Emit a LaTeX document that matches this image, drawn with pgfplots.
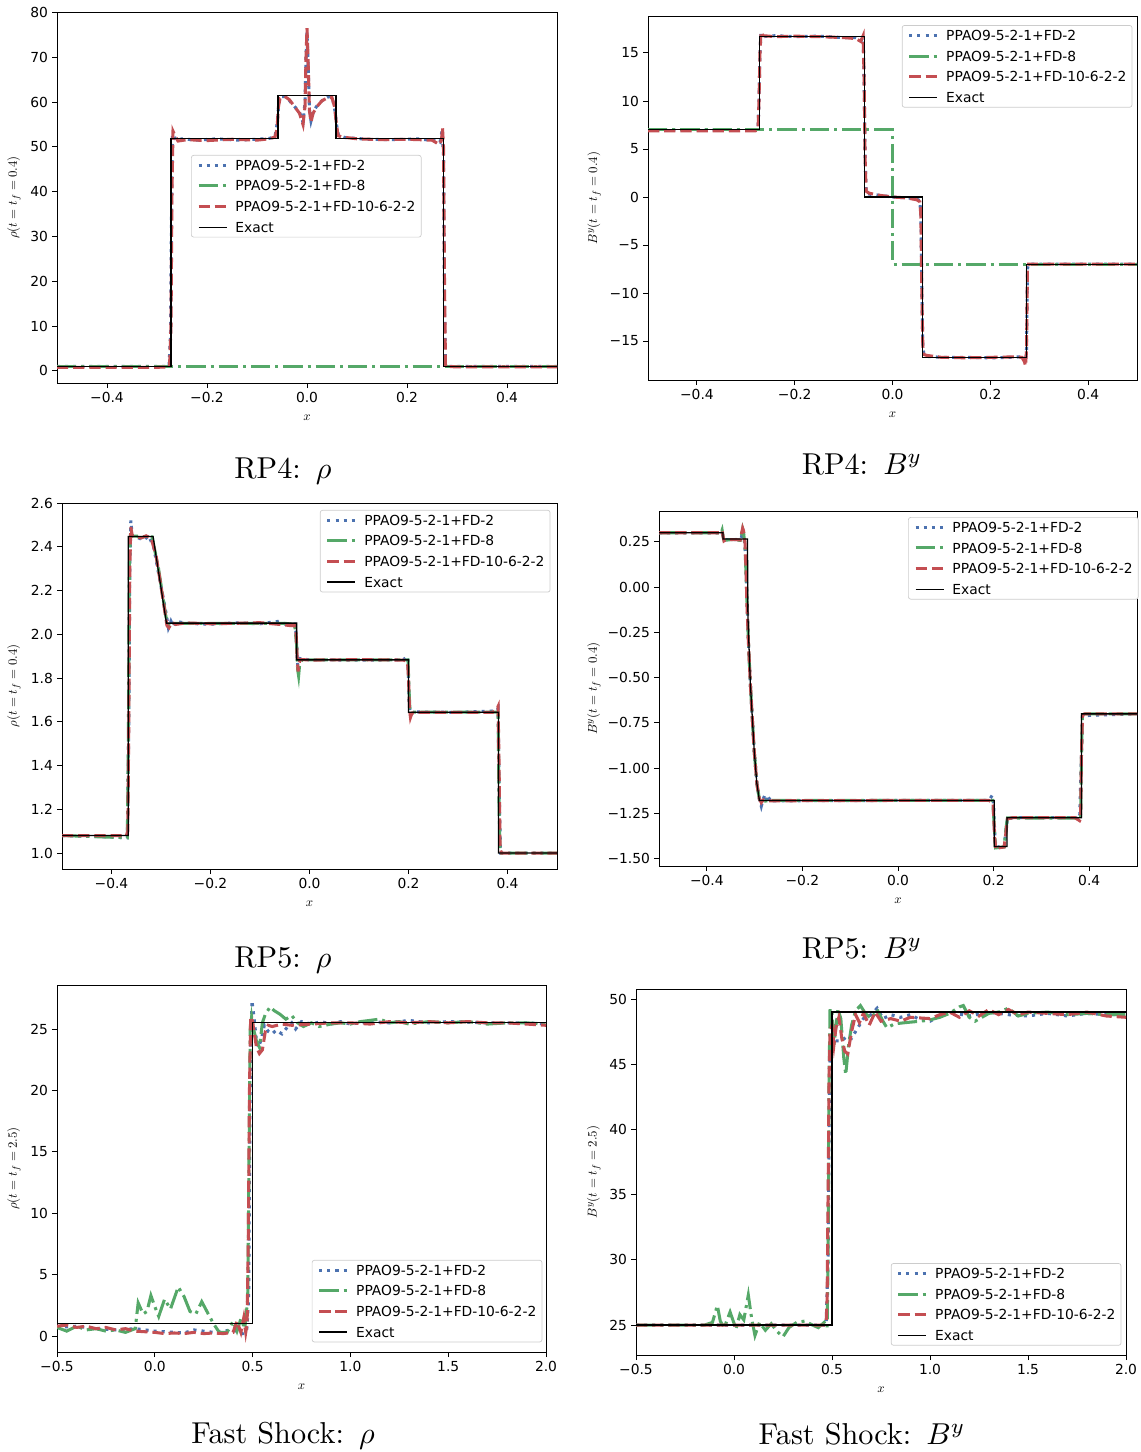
\documentclass[border=0pt]{standalone}
\usepackage{fontspec}
\usepackage{pgfplots}
\pgfplotsset{compat=1.18}
\newfontfamily\dejavu{DejaVu Sans}
\newcommand\tickfont{\dejavu\fontsize{11.8}{14}\selectfont}
\definecolor{cB}{HTML}{4C72B0}
\definecolor{cG}{HTML}{55A868}
\definecolor{cR}{HTML}{C44E52}

\pgfplotsset{
  panel/.style={
    scale only axis, anchor=south west,
    axis line style={line width=0.8pt},
    tick pos=left, tick align=outside,
    major tick length=1.5mm,
    every tick/.style={line width=0.8pt, black},
    ticklabel style={font=\tickfont},
    xlabel={$x$},
    label style={font=\fontsize{11}{13}\selectfont},
    xlabel style={at={(axis description cs:0.5,0)}, anchor=center, yshift=-1.05cm},
    ylabel style={anchor=center},
    legend cell align=left,
    legend image code/.code={\draw[##1] (0cm,0cm) -- (0.84cm,0cm); \path (1.06cm,0cm);},
    legend style={font=\tickfont, draw=black!20, line width=0.6pt, rounded corners=2pt,
      fill=white, anchor=north west, inner xsep=0.17cm, inner ysep=4.2pt, row sep=9pt,
      nodes={inner sep=0pt, text height=8.6pt, text depth=0pt}},
  },
  sB/.style={color=cB, line width=2.6pt, dash pattern=on 2.6pt off 4.3pt},
  sG/.style={color=cG, line width=2.6pt, dash pattern=on 16.6pt off 4.2pt on 2.6pt off 4.2pt},
  sR/.style={color=cR, line width=2.6pt, dash pattern=on 9.6pt off 4.2pt},
  sE/.style={black, line width=1.1pt},
}
\tikzset{ttl/.style={anchor=base, scale=2.58, font=\fontsize{10}{12}\selectfont}}

\begin{document}
\begin{tikzpicture}
\useasboundingbox (0,0) rectangle (34.2,-43.56);

% ---- RP4: rho
\begin{axis}[panel, at={(1.71cm,-11.49cm)}, width=15cm, height=11.13cm,
  xmin=-0.5, xmax=0.5, ymin=-2.7, ymax=80.1,
  xtick={-0.4,-0.2,0,0.2,0.4}, xticklabels={−0.4,−0.2,0.0,0.2,0.4},
  ytick={0,10,...,80}, yticklabels={0,10,20,30,40,50,60,70,80},
  ylabel={$\rho(t=t_f=0.4)$}, ylabel style={at={(axis description cs:-0.086,0.5)}},
  legend style={at={(axis description cs:0.268,0.6146)}}]
\addplot[sB] coordinates {(-0.5,1.0) (-0.3,1.0) (-0.276,1.0) (-0.273,8) (-0.271,35) (-0.269,52.8) (-0.266,52.6) (-0.262,51.4) (-0.25,51.8) (-0.22,51.5) (-0.18,51.8) (-0.14,51.5) (-0.10,51.7) (-0.075,51.9) (-0.064,52.3) (-0.060,55) (-0.056,60) (-0.052,61.2) (-0.045,61.2) (-0.035,60.3) (-0.025,59) (-0.015,57.8) (-0.008,55.5) (-0.004,60) (-0.002,70) (0.0,75.5) (0.002,69) (0.005,58) (0.008,55.8) (0.013,58) (0.022,59.5) (0.032,60.5) (0.043,61.2) (0.051,60.8) (0.056,58) (0.059,55) (0.063,52.6) (0.075,52.1) (0.12,51.7) (0.17,51.6) (0.22,51.8) (0.255,51.4) (0.266,51) (0.270,53.5) (0.273,48) (0.275,15) (0.277,1.0) (0.5,1.0)};
\addplot[sG] coordinates {(-0.5,1.0) (0.5,1.0)};
\addplot[sR] coordinates {(-0.5,0.8) (-0.30,0.8) (-0.275,0.9) (-0.272,10) (-0.270,40) (-0.268,53.5) (-0.264,52.5) (-0.258,51.3) (-0.24,51.6) (-0.2,51.4) (-0.15,51.7) (-0.1,51.5) (-0.075,51.8) (-0.064,52.2) (-0.060,54) (-0.057,59) (-0.054,60.8) (-0.045,61.3) (-0.035,60.5) (-0.025,59) (-0.015,57.5) (-0.008,55) (-0.004,59) (-0.002,70) (0.0,76.5) (0.002,70) (0.005,58) (0.008,55.5) (0.012,57.5) (0.02,59) (0.03,60.3) (0.042,61) (0.05,61) (0.055,59) (0.058,56) (0.062,52.5) (0.07,52.2) (0.1,51.8) (0.15,51.6) (0.2,51.7) (0.25,51.5) (0.265,50.5) (0.269,51.5) (0.271,54.3) (0.273,50) (0.275,20) (0.277,1) (0.3,0.9) (0.5,0.9)};
\addplot[sE] coordinates {(-0.5,1) (-0.272,1) (-0.272,51.8) (-0.058,51.8) (-0.058,61.5) (0.058,61.5) (0.058,51.8) (0.273,51.8) (0.273,1) (0.5,1)};
\legend{PPAO9-5-2-1+FD-2, PPAO9-5-2-1+FD-8, PPAO9-5-2-1+FD-10-6-2-2, Exact}
\end{axis}

% ---- RP4: By
\begin{axis}[panel, at={(19.44cm,-11.40cm)}, width=14.67cm, height=10.92cm,
  xmin=-0.5, xmax=0.5, ymin=-19.06, ymax=18.85,
  xtick={-0.4,-0.2,0,0.2,0.4}, xticklabels={−0.4,−0.2,0.0,0.2,0.4},
  ytick={-15,-10,...,15}, yticklabels={−15,−10,−5,0,5,10,15},
  ylabel={$B^y(t=t_f=0.4)$}, ylabel style={at={(axis description cs:-0.110,0.5)}},
  legend style={at={(axis description cs:0.519,0.975)}}]
\addplot[sB] coordinates {(-0.5,7.0) (-0.28,7.0) (-0.275,7.1) (-0.273,10) (-0.271,15) (-0.269,17.0) (-0.265,16.7) (-0.24,16.8) (-0.2,16.7) (-0.15,16.75) (-0.1,16.6) (-0.075,16.6) (-0.065,16.3) (-0.060,16.6) (-0.058,12) (-0.056,4) (-0.054,0.5) (-0.048,0.3) (-0.03,0.2) (0.0,0.0) (0.03,-0.1) (0.05,-0.2) (0.056,-0.4) (0.058,-2) (0.060,-10) (0.062,-15.5) (0.064,-16.3) (0.07,-16.6) (0.1,-16.7) (0.15,-16.7) (0.2,-16.75) (0.25,-16.7) (0.265,-16.6) (0.27,-17.0) (0.272,-17.2) (0.274,-16) (0.276,-7.5) (0.278,-7.0) (0.5,-7.0)};
\addplot[sG] coordinates {(-0.5,7) (0.0,7) (0.0,-7) (0.5,-7)};
\addplot[sR] coordinates {(-0.5,6.9) (-0.28,6.9) (-0.275,7.1) (-0.273,10) (-0.271,15) (-0.269,17.2) (-0.265,16.8) (-0.24,16.7) (-0.2,16.75) (-0.15,16.7) (-0.1,16.6) (-0.075,16.5) (-0.065,16.2) (-0.060,16.8) (-0.058,12) (-0.056,4) (-0.054,0.6) (-0.048,0.4) (-0.03,0.2) (0.0,0.0) (0.03,-0.1) (0.05,-0.3) (0.056,-0.5) (0.058,-2) (0.060,-10) (0.062,-15.5) (0.064,-16.4) (0.07,-16.5) (0.1,-16.7) (0.15,-16.75) (0.2,-16.7) (0.25,-16.65) (0.265,-16.7) (0.27,-17.2) (0.272,-17.6) (0.274,-16) (0.276,-7.5) (0.278,-7.0) (0.3,-7.0) (0.5,-7.0)};
\addplot[sE] coordinates {(-0.5,7) (-0.272,7) (-0.272,16.7) (-0.057,16.7) (-0.057,0) (0.061,0) (0.061,-16.7) (0.274,-16.7) (0.274,-7) (0.5,-7)};
\legend{PPAO9-5-2-1+FD-2, PPAO9-5-2-1+FD-8, PPAO9-5-2-1+FD-10-6-2-2, Exact}
\end{axis}

% ---- RP5: rho
\begin{axis}[panel, at={(1.86cm,-26.07cm)}, width=14.85cm, height=10.98cm,
  xmin=-0.5, xmax=0.5, ymin=0.927, ymax=2.6,
  xtick={-0.4,-0.2,0,0.2,0.4}, xticklabels={−0.4,−0.2,0.0,0.2,0.4},
  ytick={1.0,1.2,...,2.61}, yticklabels={1.0,1.2,1.4,1.6,1.8,2.0,2.2,2.4,2.6},
  ylabel={$\rho(t=t_f=0.4)$}, ylabel style={at={(axis description cs:-0.097,0.5)}},
  legend style={at={(axis description cs:0.521,0.981)}}]
\addplot[sB] coordinates {(-0.5,1.08) (-0.368,1.07) (-0.365,1.6) (-0.363,2.3) (-0.361,2.52) (-0.358,2.45) (-0.345,2.44) (-0.335,2.43) (-0.325,2.45) (-0.315,2.40) (-0.30,2.22) (-0.29,2.1) (-0.285,2.03) (-0.28,2.06) (-0.275,2.035) (-0.27,2.06) (-0.25,2.05) (-0.2,2.046) (-0.15,2.052) (-0.1,2.048) (-0.06,2.06) (-0.04,2.035) (-0.03,2.06) (-0.027,2.0) (-0.024,1.86) (-0.022,1.89) (0.0,1.883) (0.1,1.882) (0.19,1.883) (0.197,1.9) (0.199,1.88) (0.201,1.7) (0.204,1.63) (0.21,1.645) (0.3,1.643) (0.378,1.65) (0.381,1.66) (0.383,1.3) (0.386,1.0) (0.5,1.0)};
\addplot[sG] coordinates {(-0.5,1.08) (-0.368,1.07) (-0.366,1.5) (-0.364,2.3) (-0.362,2.45) (-0.34,2.447) (-0.318,2.445) (-0.305,2.3) (-0.29,2.08) (-0.285,2.045) (-0.27,2.05) (-0.2,2.05) (-0.05,2.05) (-0.03,2.045) (-0.026,1.95) (-0.024,1.84) (-0.022,1.81) (-0.020,1.86) (-0.015,1.883) (0.199,1.883) (0.201,1.75) (0.203,1.65) (0.21,1.644) (0.381,1.644) (0.383,1.2) (0.385,1.0) (0.5,1.0)};
\addplot[sR] coordinates {(-0.5,1.08) (-0.37,1.08) (-0.367,1.1) (-0.365,1.6) (-0.363,2.3) (-0.361,2.49) (-0.358,2.45) (-0.35,2.445) (-0.34,2.44) (-0.33,2.45) (-0.32,2.44) (-0.31,2.36) (-0.30,2.22) (-0.292,2.1) (-0.288,2.04) (-0.284,2.03) (-0.278,2.055) (-0.27,2.045) (-0.25,2.052) (-0.2,2.048) (-0.15,2.05) (-0.1,2.053) (-0.06,2.045) (-0.04,2.04) (-0.03,2.04) (-0.027,2.0) (-0.025,1.9) (-0.023,1.83) (-0.021,1.87) (-0.018,1.885) (0.0,1.882) (0.1,1.884) (0.19,1.882) (0.198,1.875) (0.200,1.8) (0.202,1.66) (0.204,1.62) (0.207,1.64) (0.22,1.643) (0.3,1.643) (0.37,1.643) (0.379,1.66) (0.381,1.67) (0.383,1.4) (0.385,1.02) (0.388,1.0) (0.5,1.0)};
\addplot[sE] coordinates {(-0.5,1.08) (-0.366,1.08) (-0.366,2.447) (-0.316,2.447) (-0.289,2.051) (-0.026,2.051) (-0.026,1.883) (0.200,1.883) (0.200,1.644) (0.382,1.644) (0.382,1.0) (0.5,1.0)};
\legend{PPAO9-5-2-1+FD-2, PPAO9-5-2-1+FD-8, PPAO9-5-2-1+FD-10-6-2-2, Exact}
\end{axis}

% ---- RP5: By
\begin{axis}[panel, at={(19.77cm,-25.98cm)}, width=14.34cm, height=10.65cm,
  xmin=-0.5, xmax=0.5, ymin=-1.54, ymax=0.42,
  xtick={-0.4,-0.2,0,0.2,0.4}, xticklabels={−0.4,−0.2,0.0,0.2,0.4},
  ytick={-1.5,-1.25,...,0.26}, yticklabels={−1.50,−1.25,−1.00,−0.75,−0.50,−0.25,0.00,0.25},
  ylabel={$B^y(t=t_f=0.4)$}, ylabel style={at={(axis description cs:-0.136,0.5)}},
  legend style={at={(axis description cs:0.521,0.983)}}]
\addplot[sB] coordinates {(-0.5,0.30) (-0.37,0.30) (-0.368,0.305) (-0.366,0.27) (-0.36,0.262) (-0.34,0.262) (-0.328,0.27) (-0.325,0.31) (-0.322,0.28) (-0.319,0.18) (-0.316,-0.05) (-0.313,-0.3) (-0.309,-0.53) (-0.301,-0.9) (-0.295,-1.09) (-0.290,-1.17) (-0.286,-1.21) (-0.282,-1.17) (-0.278,-1.145) (-0.274,-1.19) (-0.27,-1.17) (-0.265,-1.16) (-0.26,-1.18) (0.0,-1.178) (0.19,-1.178) (0.197,-1.15) (0.2,-1.2) (0.203,-1.4) (0.206,-1.44) (0.215,-1.43) (0.222,-1.44) (0.226,-1.34) (0.229,-1.28) (0.24,-1.273) (0.37,-1.273) (0.380,-1.28) (0.383,-1.0) (0.386,-0.71) (0.5,-0.70)};
\addplot[sG] coordinates {(-0.5,0.30) (-0.37,0.30) (-0.368,0.315) (-0.366,0.28) (-0.364,0.258) (-0.35,0.262) (-0.33,0.258) (-0.327,0.29) (-0.325,0.32) (-0.323,0.30) (-0.320,0.22) (-0.317,0.0) (-0.313,-0.3) (-0.309,-0.53) (-0.301,-0.9) (-0.295,-1.09) (-0.290,-1.17) (-0.285,-1.185) (-0.27,-1.178) (0.0,-1.178) (0.198,-1.178) (0.201,-1.3) (0.204,-1.44) (0.222,-1.435) (0.226,-1.33) (0.229,-1.275) (0.382,-1.275) (0.384,-0.9) (0.386,-0.70) (0.5,-0.70)};
\addplot[sR] coordinates {(-0.5,0.30) (-0.37,0.30) (-0.368,0.31) (-0.366,0.28) (-0.364,0.255) (-0.36,0.262) (-0.34,0.262) (-0.33,0.26) (-0.327,0.30) (-0.325,0.325) (-0.323,0.31) (-0.320,0.24) (-0.318,0.1) (-0.316,-0.1) (-0.313,-0.3) (-0.309,-0.53) (-0.301,-0.9) (-0.295,-1.09) (-0.290,-1.17) (-0.286,-1.19) (-0.282,-1.175) (-0.27,-1.18) (0.0,-1.178) (0.19,-1.178) (0.199,-1.19) (0.202,-1.38) (0.205,-1.45) (0.21,-1.44) (0.222,-1.435) (0.226,-1.35) (0.229,-1.28) (0.24,-1.273) (0.37,-1.273) (0.380,-1.29) (0.382,-1.28) (0.384,-0.9) (0.386,-0.71) (0.39,-0.70) (0.5,-0.70)};
\addplot[sE] coordinates {(-0.5,0.30) (-0.366,0.30) (-0.366,0.265) (-0.315,0.265) (-0.3145,0.1) (-0.314,-0.16) (-0.309,-0.527) (-0.301,-0.895) (-0.2955,-1.08) (-0.29,-1.178) (0.2015,-1.178) (0.2015,-1.432) (0.228,-1.432) (0.228,-1.273) (0.384,-1.273) (0.384,-0.70) (0.5,-0.70)};
\legend{PPAO9-5-2-1+FD-2, PPAO9-5-2-1+FD-8, PPAO9-5-2-1+FD-10-6-2-2, Exact}
\end{axis}

% ---- Fast shock: rho
\begin{axis}[panel, at={(1.71cm,-40.56cm)}, width=14.67cm, height=11.01cm,
  xmin=-0.5, xmax=2.0, ymin=-1.3, ymax=28.58,
  xtick={-0.5,0,0.5,1,1.5,2}, xticklabels={−0.5,0.0,0.5,1.0,1.5,2.0},
  ytick={0,5,...,25}, yticklabels={0,5,10,15,20,25},
  ylabel={$\rho(t=t_f=2.5)$}, ylabel style={at={(axis description cs:-0.088,0.5)}},
  legend style={at={(axis description cs:0.521,0.251)}}]
\addplot[sB] coordinates {(-0.5,0.7) (-0.4,0.8) (-0.3,0.6) (-0.2,0.5) (-0.1,0.6) (0.0,0.4) (0.1,0.3) (0.15,0.25) (0.2,0.5) (0.3,0.3) (0.4,0.5) (0.45,0.2) (0.47,0.4) (0.48,3) (0.485,15) (0.49,24) (0.497,27.3) (0.503,26.5) (0.51,25.5) (0.52,24) (0.53,23.5) (0.545,24.2) (0.56,25.3) (0.58,24.8) (0.6,24.6) (0.62,24.9) (0.65,24.6) (0.68,25.2) (0.7,25.5) (0.72,25.0) (0.75,25.6) (0.8,25.4) (0.85,25.6) (0.9,25.4) (0.95,25.6) (1.0,25.4) (1.1,25.6) (1.2,25.5) (1.3,25.7) (1.4,25.5) (1.5,25.6) (1.7,25.5) (1.9,25.5) (2.0,25.4)};
\addplot[sG] coordinates {(-0.5,0.7) (-0.45,0.4) (-0.4,0.8) (-0.35,0.5) (-0.3,0.6) (-0.25,0.4) (-0.2,0.5) (-0.15,0.3) (-0.1,0.6) (-0.085,2.7) (-0.06,1.8) (-0.04,2.0) (-0.02,3.3) (0.0,2.4) (0.02,1.6) (0.05,3.0) (0.08,2.2) (0.12,4.0) (0.15,3.2) (0.18,2.0) (0.21,1.8) (0.24,2.8) (0.27,1.9) (0.3,1.0) (0.33,0.3) (0.37,0.3) (0.40,1.2) (0.42,0.4) (0.44,1.4) (0.46,0.6) (0.475,3) (0.482,15) (0.488,25) (0.495,26) (0.505,25) (0.52,24) (0.535,23.5) (0.55,25.5) (0.565,26.2) (0.59,26.8) (0.61,26.5) (0.64,26.2) (0.67,25.8) (0.7,26.1) (0.73,25.5) (0.76,25.2) (0.8,25.5) (0.84,25.2) (0.9,25.4) (0.95,25.5) (1.0,25.4) (1.05,25.6) (1.1,25.7) (1.15,25.8) (1.2,25.5) (1.25,25.6) (1.3,25.4) (1.4,25.6) (1.5,25.5) (1.6,25.6) (1.7,25.4) (1.8,25.5) (1.9,25.5) (2.0,25.4)};
\addplot[sR] coordinates {(-0.5,0.8) (-0.45,0.9) (-0.4,0.7) (-0.35,0.8) (-0.3,0.6) (-0.25,0.7) (-0.2,0.5) (-0.15,0.6) (-0.1,0.4) (-0.05,0.35) (0.0,0.3) (0.05,0.2) (0.1,0.25) (0.15,0.2) (0.2,0.3) (0.25,0.2) (0.3,0.25) (0.35,0.2) (0.4,0.3) (0.42,1.2) (0.44,0.3) (0.455,1.5) (0.465,0.3) (0.472,1.0) (0.478,8) (0.484,20) (0.49,26.0) (0.5,25.6) (0.51,24.5) (0.52,23.5) (0.535,23.0) (0.55,23.3) (0.565,24.8) (0.58,25.3) (0.6,25.2) (0.65,25.4) (0.7,25.3) (0.8,25.4) (0.9,25.5) (1.0,25.5) (1.1,25.4) (1.2,25.6) (1.3,25.5) (1.4,25.6) (1.5,25.5) (1.6,25.6) (1.7,25.5) (1.8,25.5) (1.9,25.4) (2.0,25.3)};
\addplot[sE] coordinates {(-0.5,1) (0.5,1) (0.5,25.5) (2.0,25.5)};
\legend{PPAO9-5-2-1+FD-2, PPAO9-5-2-1+FD-8, PPAO9-5-2-1+FD-10-6-2-2, Exact}
\end{axis}

% ---- Fast shock: By
\begin{axis}[panel, at={(19.08cm,-40.65cm)}, width=14.70cm, height=10.98cm,
  xmin=-0.5, xmax=2.0, ymin=22.7, ymax=50.77,
  xtick={-0.5,0,0.5,1,1.5,2}, xticklabels={−0.5,0.0,0.5,1.0,1.5,2.0},
  ytick={25,30,...,50}, yticklabels={25,30,35,40,45,50},
  ylabel={$B^y(t=t_f=2.5)$}, ylabel style={at={(axis description cs:-0.086,0.5)}},
  legend style={at={(axis description cs:0.520,0.251)}}]
\addplot[sB] coordinates {(-0.5,25.0) (0.47,25.0) (0.48,30) (0.485,40) (0.49,46) (0.5,47.5) (0.52,46.8) (0.55,46.8) (0.58,47.2) (0.6,47.0) (0.62,47.5) (0.64,48.0) (0.66,48.5) (0.7,48.8) (0.73,49.3) (0.76,48.5) (0.8,48.8) (0.85,48.6) (0.9,48.8) (0.95,48.4) (1.0,48.3) (1.05,48.7) (1.1,49.0) (1.2,48.7) (1.3,49.0) (1.4,48.8) (1.5,48.7) (1.6,48.9) (1.7,48.7) (1.8,48.9) (1.9,48.8) (2.0,48.8)};
\addplot[sG] coordinates {(-0.5,25.0) (-0.15,25.0) (-0.11,25.2) (-0.085,26.5) (-0.07,25.3) (-0.05,24.8) (-0.02,26.0) (0.01,24.7) (0.03,25.8) (0.05,25.4) (0.073,27.3) (0.09,25.5) (0.107,24.2) (0.13,25.2) (0.16,24.6) (0.19,25.1) (0.22,24.5) (0.25,24.1) (0.28,24.8) (0.32,25.2) (0.36,25.3) (0.4,25.0) (0.43,24.8) (0.46,25.2) (0.475,24.8) (0.48,30) (0.485,44) (0.49,49.3) (0.5,49.0) (0.51,46.5) (0.53,49.2) (0.545,48.5) (0.56,45.5) (0.57,44.2) (0.585,46.5) (0.6,48.0) (0.62,49.1) (0.645,49.5) (0.67,48.9) (0.7,48.5) (0.73,49.2) (0.76,48.3) (0.78,47.8) (0.82,48.1) (0.88,48.2) (0.95,48.3) (1.0,48.4) (1.05,48.6) (1.1,48.9) (1.15,49.4) (1.17,49.5) (1.2,48.6) (1.23,48.3) (1.3,48.9) (1.35,49.0) (1.4,49.3) (1.45,48.7) (1.5,48.9) (1.6,49.0) (1.7,48.8) (1.8,48.9) (1.9,48.8) (2.0,48.8)};
\addplot[sR] coordinates {(-0.5,25.0) (0.46,25.0) (0.47,25.2) (0.475,27) (0.48,35) (0.485,44) (0.49,47.5) (0.5,48.0) (0.51,46.5) (0.52,47.8) (0.535,48.6) (0.55,47.0) (0.565,46.0) (0.58,45.8) (0.6,47.5) (0.62,48.8) (0.64,48.2) (0.66,48.9) (0.69,48.0) (0.72,49.0) (0.75,48.3) (0.8,48.5) (0.85,48.3) (0.9,48.6) (1.0,48.5) (1.05,48.8) (1.1,49.0) (1.15,48.6) (1.2,49.1) (1.25,48.7) (1.3,49.2) (1.35,48.8) (1.4,49.2) (1.45,48.8) (1.5,49.0) (1.6,48.9) (1.7,48.8) (1.8,49.0) (1.9,48.7) (2.0,48.6)};
\addplot[sE] coordinates {(-0.5,25) (0.5,25) (0.5,49) (2.0,49)};
\legend{PPAO9-5-2-1+FD-2, PPAO9-5-2-1+FD-8, PPAO9-5-2-1+FD-10-6-2-2, Exact}
\end{axis}

\node[ttl] at (8.49,-14.34) {RP4:\enspace$\rho$};
\node[ttl] at (25.86,-14.22) {RP4:\enspace$B^y$};
\node[ttl] at (8.49,-29.01) {RP5:\enspace$\rho$};
\node[ttl] at (25.86,-28.74) {RP5:\enspace$B^y$};
\node[ttl] at (8.49,-43.30) {Fast Shock:\enspace$\rho$};
\node[ttl] at (25.86,-43.33) {Fast Shock:\enspace$B^y$};
\end{tikzpicture}
\end{document}
